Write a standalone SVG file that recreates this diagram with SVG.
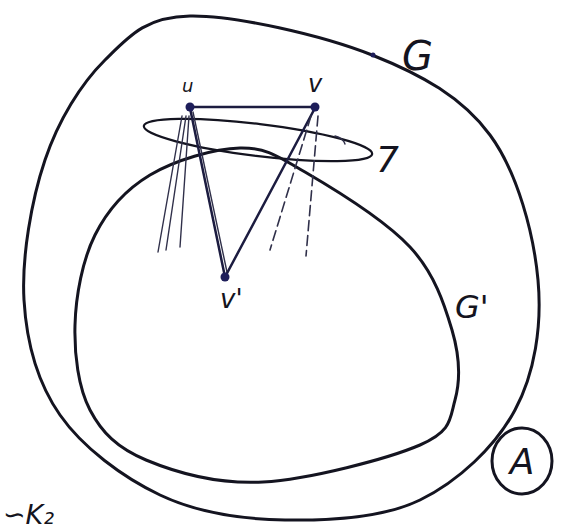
<svg xmlns="http://www.w3.org/2000/svg" width="573" height="529" viewBox="0 0 573 529">
<style>
.curve{fill:none;stroke:#141420;stroke-width:3;stroke-linecap:round;stroke-linejoin:round}
.edge{fill:none;stroke:#1c1c40;stroke-width:2.5;stroke-linecap:round}
.thin{fill:none;stroke:#30304a;stroke-width:1.4;stroke-linecap:round}
.dash{fill:none;stroke:#30304a;stroke-width:1.6;stroke-dasharray:10 5;stroke-linecap:round}
.node{fill:#1e1e5a}
.lbl{font-family:"DejaVu Sans",sans-serif;fill:#141420;font-style:italic}
</style>
<rect width="573" height="529" fill="#ffffff"/>
<g id="outer-G">
<path class="curve" d="M190,16 C234.5,15.2 322,35.2 372,55 C422,74.8 462.3,97.5 490,135 C517.7,172.5 533.8,234.2 538,280 C542.2,325.8 534.7,373.3 515,410 C495.3,446.7 458.3,481.3 420,500 C381.7,518.7 328.3,520.8 285,520 C241.7,519.2 197.5,512.8 160,495 C122.5,477.2 82.7,447.5 60,415 C37.3,382.5 26.5,342.5 24,300 C21.5,257.5 31.5,200 45,160 C58.5,120 80.8,84 105,60 C129.2,36 145.5,16.8 190,16 Z"/>
<circle cx="373" cy="55" r="2.5" class="node"/>
<text class="lbl" x="402" y="70" font-size="40">G</text>
</g>
<g id="inner-G1">
<path class="curve" d="M240,148 C265.8,147.5 276.7,155.5 305,172 C333.3,188.5 385.5,220.7 410,247 C434.5,273.3 444.5,304.5 452,330 C459.5,355.5 460.3,380.8 455,400 C449.7,419.2 452,431.3 420,445 C388,458.7 308.7,479.5 263,482 C217.3,484.5 174.8,472 146,460 C117.2,448 101.8,432.5 90,410 C78.2,387.5 74.2,354.2 75,325 C75.8,295.8 82.5,260 95,235 C107.5,210 125.8,189.5 150,175 C174.2,160.5 214.2,148.5 240,148 Z"/>
<text class="lbl" x="455" y="318" font-size="32">G'</text>
</g>
<g id="set-7">
<ellipse cx="258" cy="140" rx="115" ry="16" transform="rotate(7 258 140)" fill="none" stroke="#141420" stroke-width="2.2"/>
<path class="thin" d="M335,136 q8,2 10,8"/>
<text class="lbl" x="376" y="172" font-size="36">7</text>
</g>
<g id="connectors">
<line class="edge" x1="190" y1="107" x2="315" y2="107"/>
<line class="edge" x1="190" y1="108" x2="225" y2="277" stroke="#26266a"/>
<line class="thin" x1="193" y1="112" x2="227" y2="272"/>
<line class="edge" x1="315" y1="108" x2="225" y2="277"/>
<line class="thin" x1="182" y1="116" x2="158" y2="252"/>
<line class="thin" x1="186" y1="116" x2="166" y2="250"/>
<line class="thin" x1="189" y1="116" x2="180" y2="247"/>
<line class="dash" x1="311" y1="116" x2="270" y2="250"/>
<line class="dash" x1="318" y1="116" x2="306" y2="256"/>
</g>
<g id="node-u">
<circle cx="190" cy="107" r="4.5" class="node"/>
<text class="lbl" x="182" y="92" font-size="18">u</text>
</g>
<g id="node-v">
<circle cx="315" cy="107" r="4.5" class="node"/>
<text class="lbl" x="308" y="92" font-size="24">v</text>
</g>
<g id="node-v1">
<circle cx="225" cy="277" r="4.5" class="node"/>
<text class="lbl" x="220" y="308" font-size="26">v'</text>
</g>
<g id="badge-A">
<ellipse cx="522" cy="461" rx="30" ry="33" fill="none" stroke="#141420" stroke-width="3"/>
<text class="lbl" x="522" y="474" font-size="36" text-anchor="middle" font-style="normal">A</text>
</g>
<text class="lbl" x="3" y="524" font-size="27">∽K₂</text>
</svg>
